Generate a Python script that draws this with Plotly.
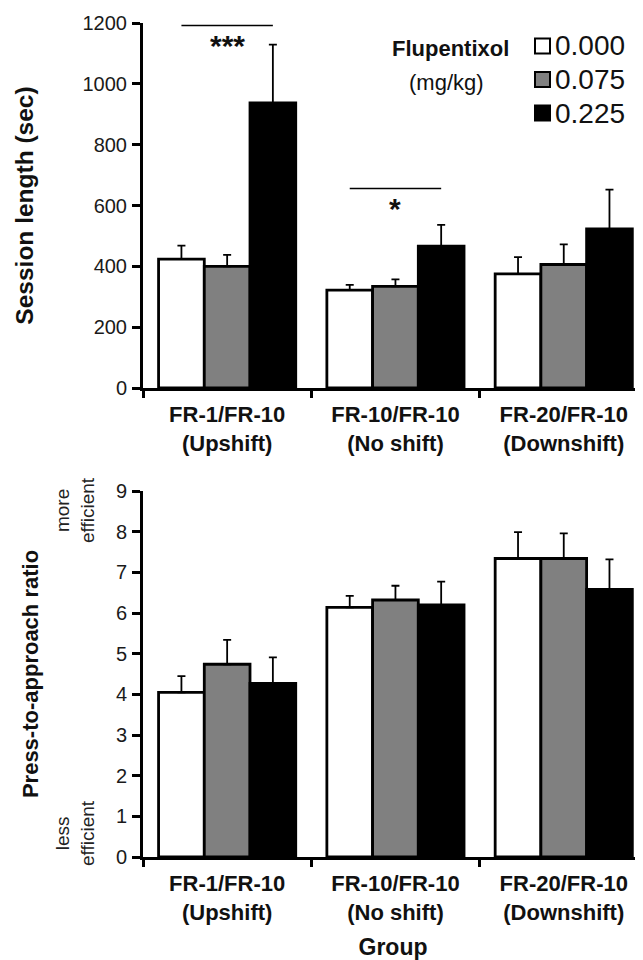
import plotly.graph_objects as go

# ---------------- data ----------------
groups = ["FR-1/FR-10<br>(Upshift)", "FR-10/FR-10<br>(No shift)", "FR-20/FR-10<br>(Downshift)"]
doses = ["0.000", "0.075", "0.225"]
dose_colors = ["#ffffff", "#808080", "#000000"]

session_0000 = [424, 322, 375]
session_0075 = [400, 334, 406]
session_0225 = [937, 466, 523]
session_err_0000 = [44, 17, 55]
session_err_0075 = [38, 23, 66]
session_err_0225 = [192, 70, 129]

ratio_0000 = [4.05, 6.14, 7.34]
ratio_0075 = [4.74, 6.32, 7.34]
ratio_0225 = [4.27, 6.20, 6.58]
ratio_err_0000 = [0.40, 0.28, 0.65]
ratio_err_0075 = [0.60, 0.35, 0.62]
ratio_err_0225 = [0.64, 0.57, 0.74]

session_ticks = [0, 200, 400, 600, 800, 1000, 1200]
ratio_ticks = [0, 1, 2, 3, 4, 5, 6, 7, 8, 9]

# significance brackets (group index, height in sec, label)
sig_groups = [0, 1]
sig_heights = [1192, 656]
sig_labels = ["***", "*"]

session_vals = [session_0000, session_0075, session_0225]
session_errs = [session_err_0000, session_err_0075, session_err_0225]
ratio_vals = [ratio_0000, ratio_0075, ratio_0225]
ratio_errs = [ratio_err_0000, ratio_err_0075, ratio_err_0225]

FONT = "Liberation Sans, Arial, Helvetica, sans-serif"
BARGAP = 0.185

# page body has an 8px margin: figure is sized to the window minus that offset
OFF = 8
W, H = 643 - OFF, 960 - OFF


def px(sx):
    return (sx - OFF) / W


def py(sy):
    return 1 - (sy - OFF) / H


fig = go.Figure()

for i, d in enumerate(doses):
    fig.add_trace(go.Bar(
        x=groups, y=session_vals[i], name=d,
        marker=dict(color=dose_colors[i], line=dict(color="black", width=2.8)),
        error_y=dict(type="data", symmetric=False, array=session_errs[i],
                     arrayminus=[0] * len(groups), color="black", thickness=1.8, width=4),
        xaxis="x", yaxis="y", offsetgroup=str(i), showlegend=False,
    ))
for i, d in enumerate(doses):
    fig.add_trace(go.Bar(
        x=groups, y=ratio_vals[i], name=d,
        marker=dict(color=dose_colors[i], line=dict(color="black", width=2.8)),
        error_y=dict(type="data", symmetric=False, array=ratio_errs[i],
                     arrayminus=[0] * len(groups), color="black", thickness=1.8, width=4),
        xaxis="x2", yaxis="y2", offsetgroup=str(i), showlegend=False,
    ))

x_left = 143
cat_px = 168.3
x_dom = [px(x_left), 1.0]
x_range = [-0.5, -0.5 + (643 - x_left) / cat_px]

axis_common = dict(showline=True, linewidth=3, linecolor="black", showgrid=False,
                   zeroline=False, ticks="outside", tickcolor="black", automargin=False)

fig.update_layout(
    width=W, height=H,
    margin=dict(l=0, r=0, t=0, b=0),
    paper_bgcolor="white", plot_bgcolor="white",
    barmode="group", bargap=BARGAP, bargroupgap=0,
    font=dict(family=FONT, color="#111111"),
    showlegend=False,
    xaxis=dict(domain=x_dom, range=x_range, anchor="y", tickson="boundaries",
               ticklen=7, tickwidth=3, ticklabelstandoff=5,
               tickfont=dict(size=22, weight="bold", color="#111111"), **axis_common),
    yaxis=dict(domain=[py(388), py(23)], range=[0, 1200], anchor="x",
               tickvals=session_ticks, ticklen=8, tickwidth=2.5, ticklabelstandoff=1,
               tickfont=dict(size=20, color="#1a1a1a"),
               title=dict(text="<b>Session length (sec)</b>", font=dict(size=24.5, color="#111111"),
                          standoff=42), **axis_common),
    xaxis2=dict(domain=x_dom, range=x_range, anchor="y2", tickson="boundaries",
                ticklen=7, tickwidth=3, ticklabelstandoff=5,
                tickfont=dict(size=22, weight="bold", color="#111111"),
                title=dict(text="<b>Group</b>", font=dict(size=23, color="#111111"), standoff=25),
                **axis_common),
    yaxis2=dict(domain=[py(857), py(491)], range=[0, 9], anchor="x2",
                tickvals=ratio_ticks, ticklen=8, tickwidth=2.5, ticklabelstandoff=1,
                tickfont=dict(size=20, color="#1a1a1a"),
                title=dict(text="<b>Press-to-approach ratio</b>", font=dict(size=22, color="#111111"),
                           standoff=72), **axis_common),
)

# significance brackets
bar_w = (1 - BARGAP) / 3
for g, h, lab in zip(sig_groups, sig_heights, sig_labels):
    fig.add_shape(type="line", xref="x", yref="y", x0=g - bar_w, x1=g + bar_w, y0=h, y1=h,
                  line=dict(color="black", width=1.5))
    fig.add_annotation(xref="x", yref="y", x=g, y=h, text="<b>" + lab + "</b>",
                       showarrow=False, yanchor="middle", yshift=-20,
                       font=dict(size=30, color="#111111"))

# manual legend (boxes + labels)
legend_y_px = [46, 79.5, 113]
for d, c, ypx in zip(doses, dose_colors, legend_y_px):
    fig.add_shape(type="rect", xref="paper", yref="paper",
                  x0=px(535), x1=px(550), y0=py(ypx + 7.5), y1=py(ypx - 7.5),
                  fillcolor=c, line=dict(color="black", width=2))
    fig.add_annotation(xref="paper", yref="paper", x=px(553), y=py(ypx), text=d,
                       showarrow=False, xanchor="left", yanchor="middle",
                       font=dict(size=28, color="#111111"))

# legend title
fig.add_annotation(xref="paper", yref="paper", x=px(450), y=py(49),
                   text="<b>Flupentixol</b>", showarrow=False, xanchor="center", yanchor="middle",
                   font=dict(size=22, color="#111111"))
fig.add_annotation(xref="paper", yref="paper", x=px(446), y=py(83),
                   text="(mg/kg)", showarrow=False, xanchor="center", yanchor="middle",
                   font=dict(size=22, color="#111111"))

# efficiency notes
fig.add_annotation(xref="paper", yref="paper", x=px(75), y=py(510),
                   text="more<br>efficient", showarrow=False, textangle=-90,
                   xanchor="center", yanchor="middle",
                   font=dict(size=19, color="#222222"))
fig.add_annotation(xref="paper", yref="paper", x=px(75), y=py(833),
                   text="less<br>efficient", showarrow=False, textangle=-90,
                   xanchor="center", yanchor="middle",
                   font=dict(size=19, color="#222222"))

fig.write_html("out.html")
